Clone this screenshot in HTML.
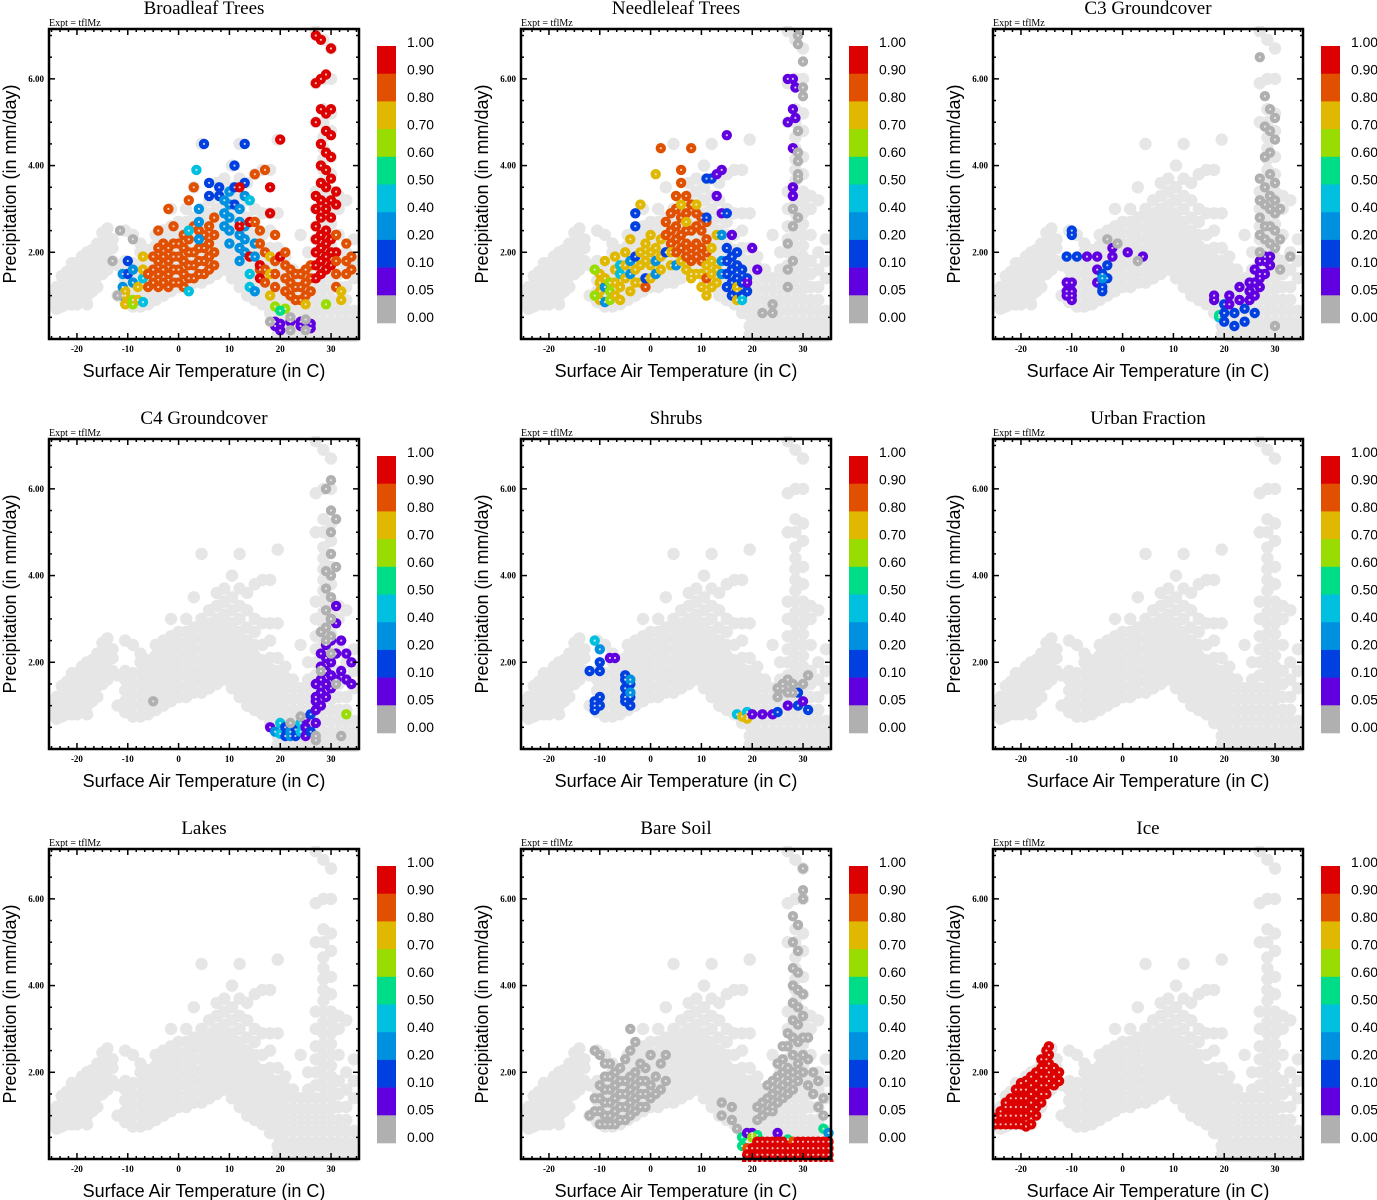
<!DOCTYPE html>
<html><head><meta charset="utf-8"><style>
html,body{margin:0;padding:0;background:#fff;}
svg{display:block;}
.ttl{font-family:"Liberation Serif",serif;font-size:19px;fill:#000;}
.expt{font-family:"Liberation Serif",serif;font-size:10px;fill:#000;}
.tick{font-family:"Liberation Serif",serif;font-size:9px;font-weight:bold;fill:#000;}
.axt{font-family:"Liberation Sans",sans-serif;font-size:18px;fill:#000;}
.cbl{font-family:"Liberation Sans",sans-serif;font-size:14px;fill:#000;}
</style></head><body>
<svg id="fig" width="1377" height="1200" viewBox="0 0 1377 1200" xmlns="http://www.w3.org/2000/svg"></svg>
<script>
// ---- data ----
const panelTitles = ["Broadleaf Trees","Needleleaf Trees","C3 Groundcover","C4 Groundcover","Shrubs","Urban Fraction","Lakes","Bare Soil","Ice"];
const xTicks = [-20,-10,0,10,20,30];
const yTicks = [2,4,6];
const cbLabels = ["1.00","0.90","0.80","0.70","0.60","0.50","0.40","0.20","0.10","0.05","0.00"];
const binEdges = [0.9,0.8,0.7,0.6,0.5,0.4,0.2,0.1,0.05];
const binColors = ["#dd0000","#e05000","#e0b800","#99dd00","#00dd88","#00c0e0","#0090e0","#0040e0","#6000e0","#b0b0b0"];
// background cloud: [temperature, precip values...]
const cloud = [
[-25.5,0.85],[-25,0.8,1.0],[-24,0.7,0.95,1.2],[-23,0.75,1.0,1.25,1.45],[-22,0.8,1.05,1.3,1.55],[-21,0.8,1.05,1.3,1.55,1.75],
[-20,0.8,1.05,1.3,1.55,1.75],[-19,0.9,1.15,1.4,1.65,1.9],[-18,0.8,1.0,1.25,1.5,1.75,2.0],[-17,1.1,1.35,1.6,1.85,2.05],
[-16,1.2,1.45,1.7,1.95,2.2],[-15,1.5,1.75,2.0,2.25,2.45],[-14,1.6,1.85,2.1,2.35,2.55],[-13,1.8,2.1,2.3],[-12,1.0,1.7],
[-10.5,0.85,1.1,1.35,1.6,1.8,2.5],[-9,0.75,1.0,1.25,1.5,1.75,2.4],[-7.5,0.75,1.0,1.25,1.5,1.75,2.0,2.2],[-6,0.8,1.05,1.3,1.55,1.8,2.05],
[-4.5,0.9,1.15,1.4,1.65,1.9,2.15,2.4],[-3,1.0,1.25,1.5,1.75,2.0,2.25,2.5],[-1.5,1.1,1.35,1.6,1.85,2.1,2.35,2.6,3.0],
[0,1.2,1.45,1.7,1.95,2.2,2.45,2.7],[1.5,1.2,1.45,1.7,1.95,2.2,2.45,2.7,3.0],[3,1.3,1.55,1.8,2.05,2.3,2.55,2.8,3.5],
[4.5,1.3,1.55,1.8,2.05,2.3,2.55,2.8,3.0,4.5],[6,1.4,1.65,1.9,2.15,2.4,2.65,2.9,3.2],[7.5,1.5,1.75,2.0,2.25,2.5,2.75,3.0,3.3,3.6],
[9,1.6,1.85,2.1,2.35,2.6,2.85,3.1,3.4,3.7],[10.5,1.4,1.65,1.9,2.15,2.4,2.65,2.9,3.2,3.5,4.0],[12,1.2,1.45,1.7,1.95,2.2,2.45,2.7,3.0,3.3,3.7,4.5],
[13.5,1.0,1.25,1.5,1.75,2.0,2.25,2.5,2.8,3.2,3.6],[15,0.9,1.15,1.4,1.65,1.9,2.15,2.4,2.7,3.0,3.8],[16.5,0.8,1.05,1.3,1.55,1.8,2.05,2.4,2.9,3.9],
[18,0.6,0.85,1.1,1.35,1.6,1.85,2.1,2.5,2.9,3.9],[19.5,0.1,0.3,0.55,0.8,1.05,1.3,1.55,1.8,2.1,2.9,4.6],[21,0.05,0.2,0.4,0.65,0.9,1.15,1.4,1.65,1.9],
[22.5,0.05,0.2,0.4,0.65,0.9,1.15,1.4,1.6],[24,0.05,0.2,0.4,0.65,0.9,1.15,1.4,2.4],[25.5,0.05,0.2,0.4,0.65,0.9,1.15,1.4,1.6,2.0],
[27,0.05,0.2,0.4,0.65,0.9,1.15,1.4,1.7,2.0,2.3,2.6,3.0,3.4,5.0,5.9,7.1],
[28.5,0.05,0.2,0.4,0.65,0.9,1.15,1.4,1.65,1.9,2.15,2.4,2.65,2.9,3.15,3.4,3.65,3.9,4.15,4.4,4.65,5.0,5.3,6.0,6.9],
[30,0.05,0.2,0.4,0.65,0.9,1.15,1.4,1.65,1.9,2.15,2.4,2.65,2.9,3.15,3.4,3.8,4.2,4.8,5.2,6.0,6.7],
[31.5,0.05,0.2,0.4,0.65,0.9,1.2,1.5,1.8,2.4,3.0,3.3],[33,0.05,0.2,0.4,0.65,0.9,1.2,1.6,2.0,3.2],[34.5,0.05,0.2,0.4,0.65,1.4,1.8,2.3]
];
// overlays per panel: [temperature, fraction, precip values...]
const broadleaf = [
[-11,0.2,1.0,1.2,1.5],[-10,0.1,1.8,1.5],[-10.5,0.7,0.8,1.0,1.1],[-9,0.6,0.8,0.9],[-9,0.2,1.3,1.6],[-8,0.7,0.9,1.2],[-7,0.4,0.85,1.4],[-7,0.7,1.9,1.6],
[-6,0.8,1.5,1.2],[-5,0.8,1.3,1.6,1.9],[-4,0.8,1.2,1.5,1.8,2.1,2.5],[-3,0.8,1.3,1.6,1.9,2.2],[-2,0.8,1.2,1.5,1.8,2.1,3.0],[-1,0.8,1.3,1.6,1.9,2.2,2.6],
[0,0.8,1.3,1.6,1.9,2.2],[1,0.8,1.2,1.5,1.8,2.1,2.4],[2,0.8,1.4,1.7,2.0,2.3,3.2],[3,0.8,1.4,1.7,2.0,2.6,3.5],[4,0.8,1.5,1.8,2.1,2.5],[5,0.8,1.5,1.8,2.1,2.4],
[6,0.8,1.6,1.9,2.2,2.6],[7,0.8,1.7,2.0,2.4,2.8],[2,0.4,1.1,2.5],[4,0.2,2.3,2.7,3.0],[5,0.1,4.5],[3.5,0.4,3.9],[6,0.1,3.3,3.6],[8,0.1,3.5,3.3],
[9,0.2,2.6,2.9,3.2],[10,0.2,2.2,2.5,2.8,3.1,3.4],[11,0.1,3.1,3.5,4.0],[12,0.2,1.8,2.1,2.4,2.7,3.0],[13,0.1,4.5,3.6],[13,0.2,2.0,2.3,2.6,3.3],
[12,0.9,2.6,3.5],[14,0.9,2.7,1.9],[15,0.8,2.7,3.8],[14,0.4,1.5,1.2,3.2],[15,0.2,1.9,2.2,1.1],[16,0.8,2.5,2.2,1.6],[16,0.9,1.7,1.4],[17,0.8,1.3,1.6,2.0,3.9],
[18,0.9,3.5,2.9],[18,0.7,1.0,1.5,1.9],[19,0.8,1.2,1.5,1.8,2.4],[20,0.9,1.9,4.6],[21,0.8,1.1,1.4,1.7,2.0],[22,0.8,1.0,1.3,1.6],[23,0.8,0.9,1.2,1.5],
[24,0.8,0.9,1.2,1.5],[25,0.8,1.0,1.3,1.6],[26,0.8,1.1,1.4,1.7],[27,0.9,1.4,1.7,2.0,2.3,2.6,3.0,3.3,5.0,5.9,7.0],
[28,0.9,1.5,1.8,2.1,2.4,2.8,3.2,3.6,4.0,4.5,5.3,6.0,6.9],[29,0.9,1.6,1.9,2.2,2.5,3.0,3.5,3.9,4.3,4.8,5.2,6.1],[30,0.9,1.7,2.0,2.3,2.8,3.2,3.7,4.2,4.7,5.3,6.7],
[31,0.9,2.0,2.4,3.1,3.4],[31,0.8,1.2,1.5,1.8,2.4],[33,0.8,1.5,1.8,2.2],[34,0.8,1.6,1.9],[32,0.7,0.9,1.1],[29,0.6,0.8],[25,0.7,0.8],[21,0.6,0.7],
[19,0.6,0.75],[20,0.5,0.65],[19,0.05,0.3,0.4],[20,0.05,0.2,0.35],[22,0.05,0.4],[24,0.05,0.4,0.3],[26,0.05,0.35,0.25],[18,0.0,0.4],[22,0.0,0.2,0.5],
[25,0.0,0.2,0.45],[-12,0.0,1.0],[-13,0.0,1.8],[-11.5,0.0,2.5],[-9,0.0,2.3]
];
const needleleaf = [
[-10,0.7,0.9,1.1,1.3,1.5],[-11,0.6,1.0,1.6],[-9,0.2,0.85,1.2],[-9,0.7,1.4,1.8],[-8,0.6,0.9,1.1,1.3],[-7,0.7,1.0,1.3,1.6,1.9],[-6,0.4,1.5,1.7],
[-6,0.7,0.9,1.2],[-5,0.7,1.4,1.7,2.0],[-4,0.2,1.5,1.8],[-4,0.7,1.1,2.3],[-3,0.1,1.9,2.6,2.9],[-3,0.7,1.3,1.6],[-2,0.7,1.3,1.7,2.0,3.1],[-1,0.8,1.2],
[-1,0.1,1.4],[-1,0.7,1.8,2.2],[0,0.7,1.4,1.7,2.0,2.4],[1,0.2,1.5,1.8],[1,0.7,2.1,3.8],[2,0.7,1.6,1.9,2.3],[2,0.8,4.4],[3,0.8,2.0,2.4,2.7],[3,0.1,2.0],
[4,0.8,2.2,2.5,2.9],[4,0.7,1.7,2.0],[5,0.8,2.3,2.6,3.0,3.3,2.0],[5,0.2,1.7],[6,0.8,2.1,2.4,2.8,3.6,3.9],[6,0.7,3.1,1.8],[7,0.8,1.9,2.2,2.5,2.9,3.3],
[7,0.7,1.6,2.7],[8,0.8,1.8,2.1,2.5,3.1,4.4],[8,0.7,1.4,1.5],[9,0.8,1.9,2.2,2.6,2.9],[9,0.7,1.5,3.1],[10,0.8,1.8,2.1,2.5,2.8],[10,0.7,1.2,1.5],
[11,0.8,2.0,2.3,2.7,1.4],[11,0.1,3.7,2.8],[11,0.7,1.0,1.7],[12,0.7,1.2,1.5,1.8,2.1],[12,0.1,3.7],[13,0.05,3.8,3.3],[13,0.7,1.3,1.6,2.4],[14,0.05,2.9,3.9],
[14,0.2,1.5,1.8,2.4],[15,0.1,1.2,1.5,1.8,2.1,2.9],[15,0.05,4.7],[16,0.1,1.0,1.3,1.6,1.9],[16,0.05,2.4],[17,0.1,1.1,1.4,1.7,2.0],[17,0.7,0.9,1.2],
[18,0.1,1.0,1.3,1.6],[18,0.4,0.9],[19,0.1,1.1,1.4],[19,0.05,1.3],[20,0.05,2.1],[21,0.05,1.6],[27,0.05,6.0,5.0],[28,0.05,6.0,5.3,4.4,3.5,3.3],
[28.5,0.05,5.8,5.1],[27,0.0,1.2,1.6,2.2],[28,0.0,1.8,2.6,3.0],[29,0.0,3.8,4.3,4.8,4.1,3.7,2.8],[30,0.0,6.4,5.8,5.6],[29,0.0,6.8,7.0],[24,0.0,0.8,0.6],[22,0.0,0.6]
];
const c3 = [
[-10,0.1,2.5,2.4],[-11,0.1,1.9],[-11,0.05,1.1,1.0,1.3],[-10,0.05,0.9,1.1,1.0,1.3],[-9,0.1,1.9],[-7,0.05,1.9],[-5,0.05,1.9,1.6,1.3],[-4,0.1,1.2,1.5,1.1],
[-3,0.1,1.4,1.7],[-4,0.2,1.4],[-2,0.05,1.9,2.1],[-3,0.0,2.3],[-1,0.0,2.2],[1,0.05,2.0],[4,0.05,1.9],[3,0.0,1.8],[18,0.05,1.0,0.9],[19,0.4,0.5],[19,0.5,0.55],
[20,0.1,0.4,0.6,0.8],[21,0.05,0.8,1.0],[22,0.1,0.3,0.6],[23,0.05,0.9,1.2],[24,0.1,0.4,0.7],[25,0.05,0.9,1.1,1.3],[26,0.05,1.0,1.3,1.6],[26,0.1,0.6],
[27,0.05,1.2,1.5,1.8,1.4],[28,0.05,1.5,1.8,1.9],[29,0.05,1.7,1.9],[27,0.0,2.0,2.4,2.8,3.2,3.7,6.5],[28,0.0,2.3,2.6,3.1,3.5,4.2,4.9,5.6],
[29,0.0,2.2,2.6,3.0,3.3,3.8,4.3,4.8,5.3],[30,0.0,2.1,2.5,2.9,3.2,3.6,4.6,5.1],[31,0.0,2.3,3.0,1.6],[33,0.0,1.9],[30,0.0,0.3]
];
const c4 = [
[-5,0.0,1.1],[18,0.05,0.5],[19,0.2,0.4],[20,0.4,0.35,0.6],[21,0.1,0.3,0.5],[22,0.2,0.4,0.3],[23,0.1,0.45,0.3],[24,0.4,0.4,0.6],[25,0.05,0.3,0.5,0.7],
[26,0.1,0.4,0.8],[27,0.05,0.6,0.9,1.2,1.5,1.1],[28,0.05,1.0,1.3,1.6,1.9,2.2],[29,0.05,1.2,1.5,1.8,2.1,2.4],[30,0.05,1.4,1.7,2.0,2.5,3.0],
[31,0.05,1.6,2.2,2.9,3.3],[32,0.05,1.8,2.5],[33,0.05,1.6,2.2],[34,0.05,1.5,2.0],[33,0.6,0.8],[30,0.0,2.2,2.6,3.0,3.5,4.0,4.5,5.0,5.5,6.2],
[29,0.0,2.5,2.8,3.2,3.7,4.1,6.0],[28,0.0,1.8,2.7],[31,0.0,1.5,4.2,5.3],[22,0.0,0.6],[24,0.0,0.75],[27,0.0,0.3,0.2],[32,0.0,0.3]
];
const shrubs = [
[-12,0.1,1.8],[-11,0.4,2.5],[-10,0.2,2.3],[-11,0.1,1.0,0.9,1.1],[-10,0.1,1.2,1.0,1.8,2.0],[-8,0.05,2.1],[-7,0.05,2.1],[-5,0.1,1.7,1.4,1.1,1.2,1.6],
[-4,0.1,1.3,1.5,1.2,1.0],[-4,0.2,1.3,1.6],[17,0.4,0.8],[18,0.7,0.75],[19,0.4,0.85,0.75],[19,0.7,0.7],[20,0.05,0.8],[22,0.05,0.8],[24,0.05,0.8],
[25,0.1,0.85],[27,0.05,1.0],[29,0.1,1.0,1.3],[30,0.05,1.1],[31,0.1,0.9],[25,0.0,1.2,1.4],[26,0.0,1.5,1.4],[27,0.0,1.3,1.6],[28,0.0,1.3,1.5],[30,0.0,1.5],[31,0.0,1.7]
];
const urban = [];
const lakes = [];
const bareSoil = [
[-12,0.0,1.0],[-11,0.0,1.1,1.4,2.5],[-10,0.0,0.8,1.1,1.4,1.7,2.4],[-9,0.0,0.8,1.0,1.3,1.6,1.9,2.2],[-8,0.0,0.8,1.0,1.3,1.6,1.9,2.2],
[-7,0.0,0.8,1.1,1.4,1.7,2.0],[-6,0.0,0.9,1.2,1.5,1.8,2.1],[-5,0.0,0.9,1.2,1.5,1.8,2.3],[-4,0.0,1.0,1.3,1.6,1.9,2.5,3.0],[-3,0.0,1.1,1.4,1.7,2.0,2.7],
[-2,0.0,1.2,1.5,1.8,2.2],[-1,0.0,1.2,1.5,1.8,2.1],[0,0.0,1.4,1.7,2.4],[1,0.0,1.5,1.9],[2,0.0,2.2,1.6],[3,0.0,2.4,1.8],[14,0.0,1.0,1.3],[16,0.0,0.9,1.2],
[17,0.0,0.7],[21,0.0,0.9,1.2],[22,0.0,1.0,1.3],[23,0.0,1.1,1.4,1.7],[24,0.0,1.2,1.5,1.8,1.1],[25,0.0,1.3,1.6,1.9,2.2],[26,0.0,1.4,1.7,2.0,2.3,2.6],
[27,0.0,1.5,1.8,2.1,2.6,2.9],[28,0.0,1.6,2.0,2.4,2.8,3.2,3.6,4.0,4.4,5.0,5.6],[29,0.0,1.8,2.2,2.7,3.1,3.5,3.9,4.3,4.8,5.4],
[30,0.0,2.0,2.4,2.8,3.3,3.8,6.0,6.2,6.7],[31,0.0,1.7,2.3,2.8],[32,0.0,1.5,2.0],[33,0.0,1.2,1.8],[34,0.0,1.0,1.4],
[18,0.5,0.5,0.3],[19,0.05,0.6],[20,0.1,0.55],[20,0.05,0.6],[21,0.5,0.55],[19,0.8,0.25],[20,0.6,0.5],[25,0.05,0.6],[27,0.5,0.45],[28,0.8,0.4],[34,0.5,0.7],[35,0.2,0.6],
[19,0.9,-0.05,0.1],[20,0.9,-0.05,0.1,0.25],[21,0.9,-0.05,0.1,0.25,0.4],[22,0.9,-0.05,0.1,0.25,0.4],[23,0.9,-0.05,0.1,0.25,0.4],[24,0.9,-0.05,0.1,0.25,0.4],
[25,0.9,-0.05,0.1,0.25,0.4],[26,0.9,-0.05,0.1,0.25,0.4],[27,0.9,-0.05,0.1,0.25],[28,0.9,-0.05,0.1,0.25],[29,0.9,-0.05,0.1,0.25,0.4],[30,0.9,-0.05,0.1,0.25,0.4],
[31,0.9,-0.05,0.1,0.25,0.4],[32,0.9,-0.05,0.1,0.25,0.4],[33,0.9,-0.05,0.1,0.25,0.4],[34,0.9,-0.05,0.1,0.25,0.4],[35,0.9,-0.05,0.1,0.25,0.4]
];
const ice = [
[-25.5,0.9,0.85],[-25,0.9,0.8,0.95],[-24,0.9,0.8,1.0,1.1],[-23,0.9,0.8,1.0,1.2,1.3],[-22,0.9,0.8,1.0,1.2,1.4],[-21,0.9,0.8,1.0,1.2,1.4,1.6],
[-20,0.9,0.8,1.0,1.2,1.4,1.6,1.75],[-19,0.9,0.75,1.0,1.2,1.4,1.6,1.8],[-18,0.9,0.8,1.1,1.3,1.5,1.7,1.9],[-17,0.9,1.0,1.2,1.4,1.6,1.8,2.0],
[-16,0.9,1.3,1.5,1.7,1.9,2.1,2.3],[-15,0.9,1.5,1.7,1.9,2.1,2.3,2.5],[-14.5,0.9,1.8,2.0,2.2,2.4,2.6],[-13.5,0.9,1.7,1.9,2.1],[-12.5,0.9,1.8,2.0]
];
const overlays = [broadleaf,needleleaf,c3,c4,shrubs,urban,lakes,bareSoil,ice];

// ---- drawing ----
const NS = "http://www.w3.org/2000/svg";
const svg = document.getElementById('fig');
const PL = 49, PR = 359, PT = 29, PB = 339;
const XMIN = -25.5, XMAX = 35.5, YMIN = 0, YMAX = 7.15;
function xs(t){ return PL + (t - XMIN) / (XMAX - XMIN) * (PR - PL); }
function ys(p){ return PB - (p - YMIN) / (YMAX - YMIN) * (PB - PT); }
function colorFor(f){ for (let i = 0; i < binEdges.length; i++) { if (f >= binEdges[i]) return binColors[i]; } return binColors[9]; }
function mk(tag, attrs, parent){ const e = document.createElementNS(NS, tag); for (const k in attrs) e.setAttribute(k, attrs[k]); parent.appendChild(e); return e; }

panelTitles.forEach((title, idx) => {
  const col = idx % 3, row = Math.floor(idx / 3);
  const g = mk('g', {transform: `translate(${col*472},${row*410})`}, svg);
  
  

  const tt = mk('text', {x: 204, y: 14, 'text-anchor': 'middle', class: 'ttl'}, g);
  tt.textContent = title;
  
  
  const ex = mk('text', {x: 49, y: 26, class: 'expt'}, g);
  ex.textContent = 'Expt = tflMz';
  
  

  const clip = mk('clipPath', {id: 'clip' + idx}, g);
  mk('rect', {x: PL, y: PT - 3, width: PR - PL + 4, height: PB - PT + 6}, clip);
  const pts = mk('g', {'clip-path': `url(#clip${idx})`}, g);
  
  
  const cg = mk('g', {fill: '#e6e6e6'}, pts);
  cloud.forEach(r => { for (let i = 1; i < r.length; i++) {
    const c = mk('circle', {cx: xs(r[0]).toFixed(1), cy: ys(r[i]).toFixed(1), r: 6.2}, cg);
    
    
  }});
  overlays[idx].forEach(r => { const col2 = colorFor(r[1]); for (let i = 2; i < r.length; i++) {
    const c = mk('circle', {cx: xs(r[0]).toFixed(1), cy: ys(r[i]).toFixed(1), r: 5.2, fill: col2}, pts);
    
    
  }});
  overlays[idx].forEach(r => { for (let i = 2; i < r.length; i++) {
    mk('circle', {cx: xs(r[0]).toFixed(1), cy: ys(r[i]).toFixed(1), r: 1.1, fill: '#f0f0f0', opacity: 0.8}, pts);
  }});

  // frame and ticks
  const fr = mk('rect', {x: PL, y: PT, width: PR - PL, height: PB - PT, fill: 'none', stroke: '#000', 'stroke-width': 2.5}, g);
  
  
  const tk = mk('g', {stroke: '#000', 'stroke-width': 1.5}, g);
  for (let v = -25; v <= 35.01; v += 10/6) {
    const x = xs(v); const major = Math.abs(v/10 - Math.round(v/10)) < 0.01; const L = major ? 6 : 3;
    mk('line', {x1: x, y1: PB, x2: x, y2: PB - L}, tk); mk('line', {x1: x, y1: PT, x2: x, y2: PT + L}, tk);
  }
  for (let v = 0.5; v < YMAX; v += 0.5) {
    const y = ys(v); const major = Math.abs(v/2 - Math.round(v/2)) < 0.01; const L = major ? 6 : 3;
    mk('line', {x1: PL, y1: y, x2: PL + L, y2: y}, tk); mk('line', {x1: PR, y1: y, x2: PR - L, y2: y}, tk);
  }
  xTicks.forEach(v => { const t = mk('text', {x: xs(v), y: 352, 'text-anchor': 'middle', class: 'tick'}, g); t.textContent = v;
      });
  yTicks.forEach(v => { const t = mk('text', {x: 44, y: ys(v) + 3, 'text-anchor': 'end', class: 'tick'}, g); t.textContent = v.toFixed(2);
      });
  const xt = mk('text', {x: 204, y: 377, 'text-anchor': 'middle', class: 'axt'}, g);
  xt.textContent = 'Surface Air Temperature (in C)';
   
  const yt = mk('text', {x: 0, y: 0, 'text-anchor': 'middle', class: 'axt', transform: 'translate(16,184) rotate(-90)'}, g);
  yt.textContent = 'Precipitation (in mm/day)';
   

  // colorbar
  const cb = mk('g', {}, g);
   
  const bh = (323 - 46) / 10;
  binColors.forEach((c, i) => { const r = mk('rect', {x: 377, y: 46 + i*bh, width: 19, height: bh + 0.3, fill: c}, cb);
      });
  cbLabels.forEach((l, i) => { const t = mk('text', {x: 407, y: 47 + i*27.5, class: 'cbl', textLength: 27, lengthAdjust: 'spacingAndGlyphs'}, cb); t.textContent = l;
      });
});
</script>
</body></html>
